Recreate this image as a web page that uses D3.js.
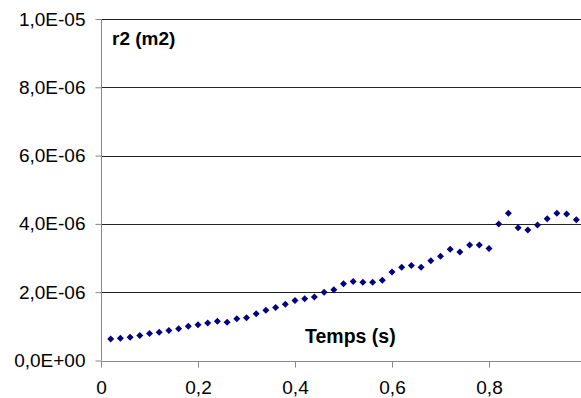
<!DOCTYPE html>
<html>
<head>
<meta charset="utf-8">
<script src="https://cdn.jsdelivr.net/npm/d3@7"></script>
<style>
  body { margin: 0; background: #fff; }
  svg { display: block; font-family: "Liberation Sans", Arial, sans-serif; }
</style>
</head>
<body>
<div id="chart"></div>
<script>
// temps (s)
var temps = [0.02, 0.04, 0.06, 0.08, 0.10, 0.12, 0.14, 0.16, 0.18, 0.20,
             0.22, 0.24, 0.26, 0.28, 0.30, 0.32, 0.34, 0.36, 0.38, 0.40,
             0.42, 0.44, 0.46, 0.48, 0.50, 0.52, 0.54, 0.56, 0.58, 0.60,
             0.62, 0.64, 0.66, 0.68, 0.70, 0.72, 0.74, 0.76, 0.78, 0.80,
             0.82, 0.84, 0.86, 0.88, 0.90, 0.92, 0.94, 0.96, 0.98];
// r2 (m2), in units of 1E-06
var r2 = [0.63, 0.65, 0.68, 0.73, 0.79, 0.83, 0.88, 0.93, 1.00, 1.05,
          1.10, 1.15, 1.12, 1.22, 1.25, 1.37, 1.47, 1.55, 1.65, 1.76,
          1.81, 1.86, 2.00, 2.07, 2.25, 2.31, 2.29, 2.29, 2.35, 2.59,
          2.73, 2.78, 2.73, 2.92, 3.05, 3.26, 3.18, 3.38, 3.38, 3.28,
          4.00, 4.31, 3.89, 3.82, 3.97, 4.15, 4.31, 4.29, 4.12];
var yTicks = [0, 2e-6, 4e-6, 6e-6, 8e-6, 1e-5];
var yTickLabels = ["0,0E+00", "2,0E-06", "4,0E-06", "6,0E-06", "8,0E-06", "1,0E-05"];
var xTicks = [0, 0.2, 0.4, 0.6, 0.8];
var xTickLabels = ["0", "0,2", "0,4", "0,6", "0,8"];

var W = 581, H = 398;
var margin = {top: 19, left: 101, bottom: 37};

var svg = d3.select("#chart").append("svg")
  .attr("width", W).attr("height", H);

var x = d3.scaleLinear().domain([0, 1]).range([margin.left, 586]);
var y = d3.scaleLinear().domain([0, 1e-5]).range([H - margin.bottom - 0.5, margin.top]);

// gridlines
svg.append("g")
  .selectAll("line")
  .data(yTicks.slice(1))
  .enter().append("line")
    .attr("x1", margin.left).attr("x2", W)
    .attr("y1", function(d) { return Math.round(y(d)) + 0.5; })
    .attr("y2", function(d) { return Math.round(y(d)) + 0.5; })
    .attr("stroke", "#222")
    .attr("stroke-width", 1);

// y axis
var yAxis = svg.append("g")
  .attr("transform", "translate(" + (margin.left + 0.5) + ",0)")
  .call(d3.axisLeft(y).tickValues(yTicks).tickSize(6).tickPadding(10)
    .tickFormat(function(d, i) { return yTickLabels[i]; }));
yAxis.select(".domain").attr("stroke", "#888").attr("d", "M0," + y(1e-5) + "V" + y(0));
yAxis.selectAll(".tick line").attr("stroke", "#888");
yAxis.selectAll(".tick text").attr("font-size", 19).attr("fill", "#000")
  .attr("font-family", "Liberation Sans, Arial, sans-serif");

// x axis
var xAxis = svg.append("g")
  .attr("transform", "translate(0," + (Math.round(y(0)) + 0.5) + ")")
  .call(d3.axisBottom(x).tickValues(xTicks).tickSize(6).tickPadding(13)
    .tickFormat(function(d, i) { return xTickLabels[i]; }));
xAxis.select(".domain").attr("stroke", "#888").attr("d", "M" + margin.left + ",0H" + W);
xAxis.selectAll(".tick line").attr("stroke", "#888");
xAxis.selectAll(".tick text").attr("font-size", 19).attr("fill", "#000")
  .attr("font-family", "Liberation Sans, Arial, sans-serif");

// points (diamonds)
svg.append("g")
  .selectAll("path")
  .data(temps)
  .enter().append("path")
    .attr("transform", function(d, i) { return "translate(" + x(d) + "," + y(r2[i] * 1e-6) + ")"; })
    .attr("d", "M0,-3.5L3.5,0L0,3.5L-3.5,0Z")
    .attr("fill", "#000080");

// axis titles
svg.append("text")
  .attr("x", 112).attr("y", 45)
  .attr("font-size", 19).attr("font-weight", "bold")
  .text("r2 (m2)");

svg.append("text")
  .attr("x", 305).attr("y", 343)
  .attr("font-size", 19.5).attr("font-weight", "bold")
  .text("Temps (s)");
</script>
</body>
</html>
